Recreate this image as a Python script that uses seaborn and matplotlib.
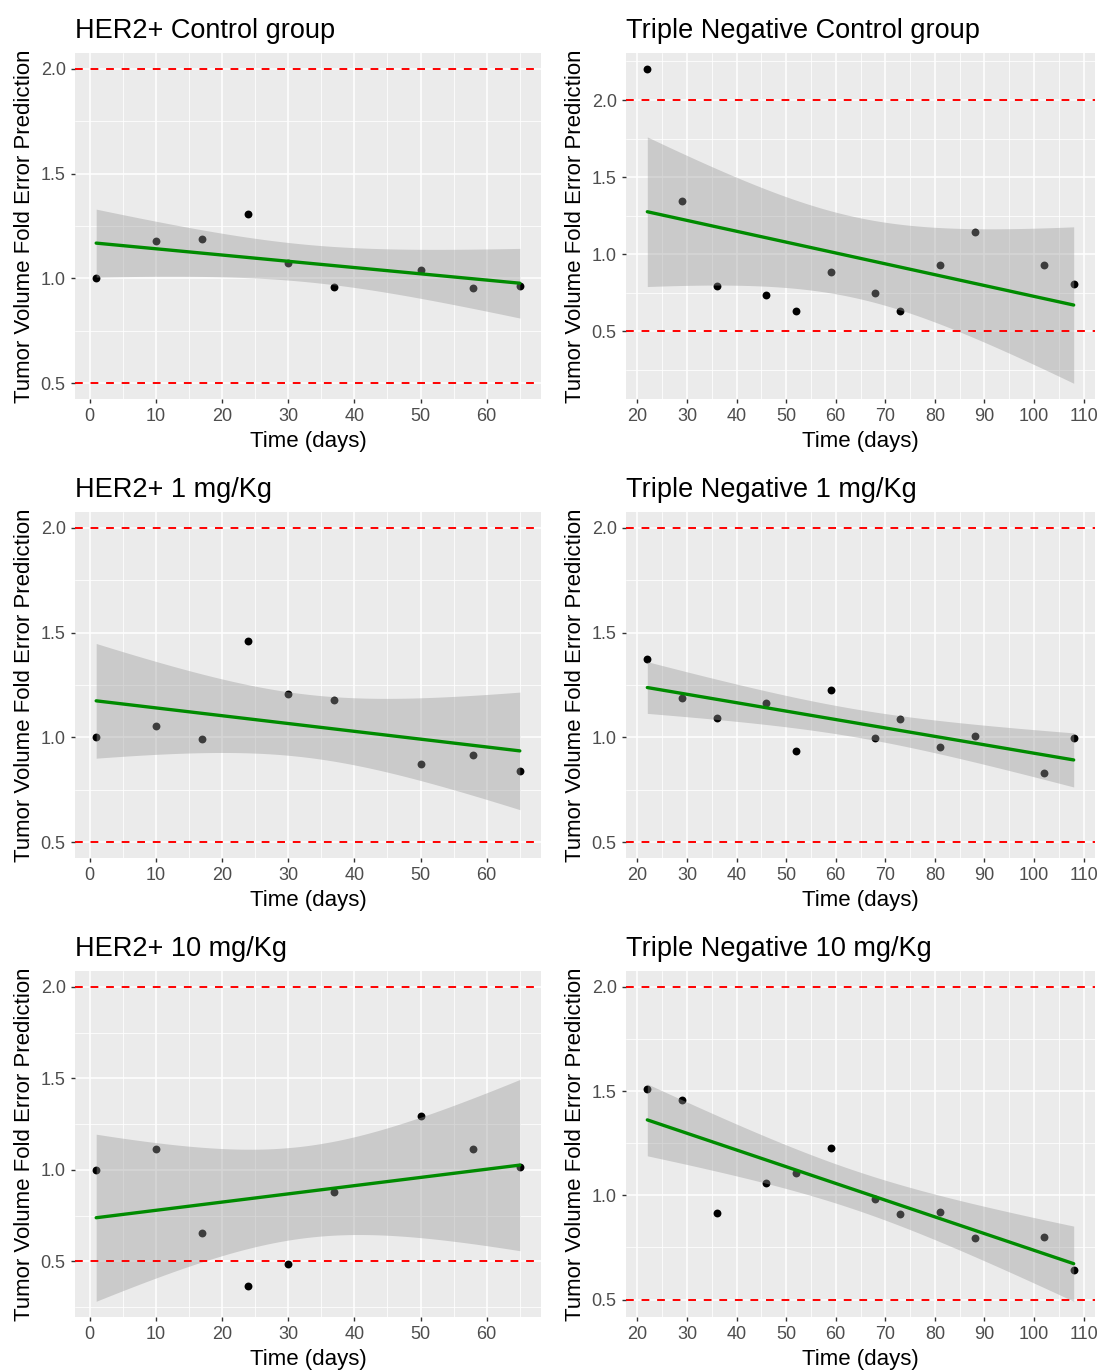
import numpy as np
import pandas as pd
import matplotlib
matplotlib.use("Agg")
import matplotlib.pyplot as plt
import matplotlib.ticker as mticker
import seaborn as sns

# ---------------- data ----------------
her2_days = [1, 10, 17, 24, 30, 37, 50, 58, 65]
tn_days = [22, 29, 36, 46, 52, 59, 68, 73, 81, 88, 102, 108]

her2_control = [1.00, 1.18, 1.19, 1.305, 1.075, 0.96, 1.04, 0.955, 0.965]
tn_control = [2.203, 1.346, 0.797, 0.737, 0.632, 0.885, 0.751, 0.632, 0.931, 1.143, 0.931, 0.805]
her2_1mg = [1.00, 1.055, 0.992, 1.459, 1.205, 1.179, 0.872, 0.914, 0.839]
tn_1mg = [1.375, 1.190, 1.093, 1.162, 0.934, 1.224, 0.995, 1.090, 0.955, 1.006, 0.828, 0.995]
her2_10mg = [1.00, 1.115, 0.655, 0.365, 0.484, 0.879, 1.294, 1.113, 1.013]
tn_10mg = [1.511, 1.459, 0.913, 1.060, 1.109, 1.228, 0.981, 0.911, 0.922, 0.793, 0.802, 0.641]

titles = ["HER2+ Control group", "Triple Negative Control group",
          "HER2+ 1 mg/Kg", "Triple Negative 1 mg/Kg",
          "HER2+ 10 mg/Kg", "Triple Negative 10 mg/Kg"]
thresholds = [0.5, 2.0]
x_label = "Time (days)"
y_label = "Tumor Volume Fold Error Prediction"

panels = [
    (titles[0], her2_days, her2_control),
    (titles[1], tn_days, tn_control),
    (titles[2], her2_days, her2_1mg),
    (titles[3], tn_days, tn_1mg),
    (titles[4], her2_days, her2_10mg),
    (titles[5], tn_days, tn_10mg),
]

# ---------------- style ----------------
sns.set_theme(style="darkgrid")
plt.rcParams.update({
    "axes.facecolor": "#EBEBEB",
    "grid.color": "white",
    "axes.edgecolor": "white",
    "xtick.color": "#333333",
    "ytick.color": "#333333",
})
plt.rcParams["font.family"] = ["Liberation Sans", "DejaVu Sans"]

T975 = {7: 2.364624, 10: 2.228139}
try:
    from scipy import stats as _st
    def tq(df):
        return _st.t.ppf(0.975, df)
except Exception:
    def tq(df):
        return T975[df]

W, H = 1097, 1371
fig = plt.figure(figsize=(W / 100, H / 100), dpi=100)

cols = [(75, 541), (626, 1095)]
rows = [(53, 399), (512, 858), (971, 1317)]

for i, (title, xs, ys) in enumerate(panels):
    r, c = divmod(i, 2)
    l, rr = cols[c]
    t, b = rows[r]
    ax = fig.add_axes([l / W, 1 - b / H, (rr - l) / W, (b - t) / H])

    x = np.asarray(xs, float)
    y = np.asarray(ys, float)
    n = len(x)
    slope, icpt = np.polyfit(x, y, 1)
    xg = np.linspace(x.min(), x.max(), 80)
    yg = icpt + slope * xg
    resid = y - (icpt + slope * x)
    s = np.sqrt(np.sum(resid ** 2) / (n - 2))
    sxx = np.sum((x - x.mean()) ** 2)
    se = s * np.sqrt(1.0 / n + (xg - x.mean()) ** 2 / sxx)
    half = tq(n - 2) * se
    lo, hi = yg - half, yg + half

    df = pd.DataFrame({"time": x, "fold": y})
    sns.scatterplot(data=df, x="time", y="fold", ax=ax, color="black",
                    s=32, linewidth=0, zorder=2)
    ax.fill_between(xg, lo, hi, color="#999999", alpha=0.4, linewidth=0, zorder=3)
    for th in thresholds:
        ax.axhline(th, color="#FF0000", linewidth=1.4, dashes=(4, 4), zorder=3.5)
    fit = pd.DataFrame({"time": xg, "fold": yg})
    sns.lineplot(data=fit, x="time", y="fold", ax=ax, color="#008B00",
                 linewidth=2.4, zorder=4)

    # limits like ggplot (5% expansion of data incl. ribbon and hlines)
    ymin = min(y.min(), lo.min(), min(thresholds))
    ymax = max(y.max(), hi.max(), max(thresholds))
    yr = ymax - ymin
    ax.set_ylim(ymin - 0.05 * yr, ymax + 0.05 * yr)
    xr = x.max() - x.min()
    ax.set_xlim(x.min() - 0.05 * xr, x.max() + 0.05 * xr)

    ax.xaxis.set_major_locator(mticker.MultipleLocator(10))
    ax.xaxis.set_minor_locator(mticker.MultipleLocator(5))
    ax.yaxis.set_major_locator(mticker.MultipleLocator(0.5))
    ax.yaxis.set_minor_locator(mticker.MultipleLocator(0.25))
    ax.yaxis.set_major_formatter(mticker.FormatStrFormatter("%.1f"))
    ax.grid(which="major", color="white", linewidth=1.1)
    ax.grid(which="minor", color="white", linewidth=0.55)
    ax.set_axisbelow(True)
    for sp in ax.spines.values():
        sp.set_visible(False)
    ax.tick_params(which="major", length=3.2, width=1.0, color="#333333",
                   labelsize=13, labelcolor="#4D4D4D", pad=3.5)
    ax.tick_params(which="minor", length=0)
    ax.tick_params(axis="x", bottom=True)
    ax.tick_params(axis="y", left=True)

    ax.set_xlabel(x_label, fontsize=16, color="black", labelpad=4)
    ax.set_ylabel(y_label, fontsize=16, color="black", labelpad=4)
    ax.set_title(title, loc="left", fontsize=19.5, color="black", pad=11)

fig.savefig("out.png", dpi=100)
